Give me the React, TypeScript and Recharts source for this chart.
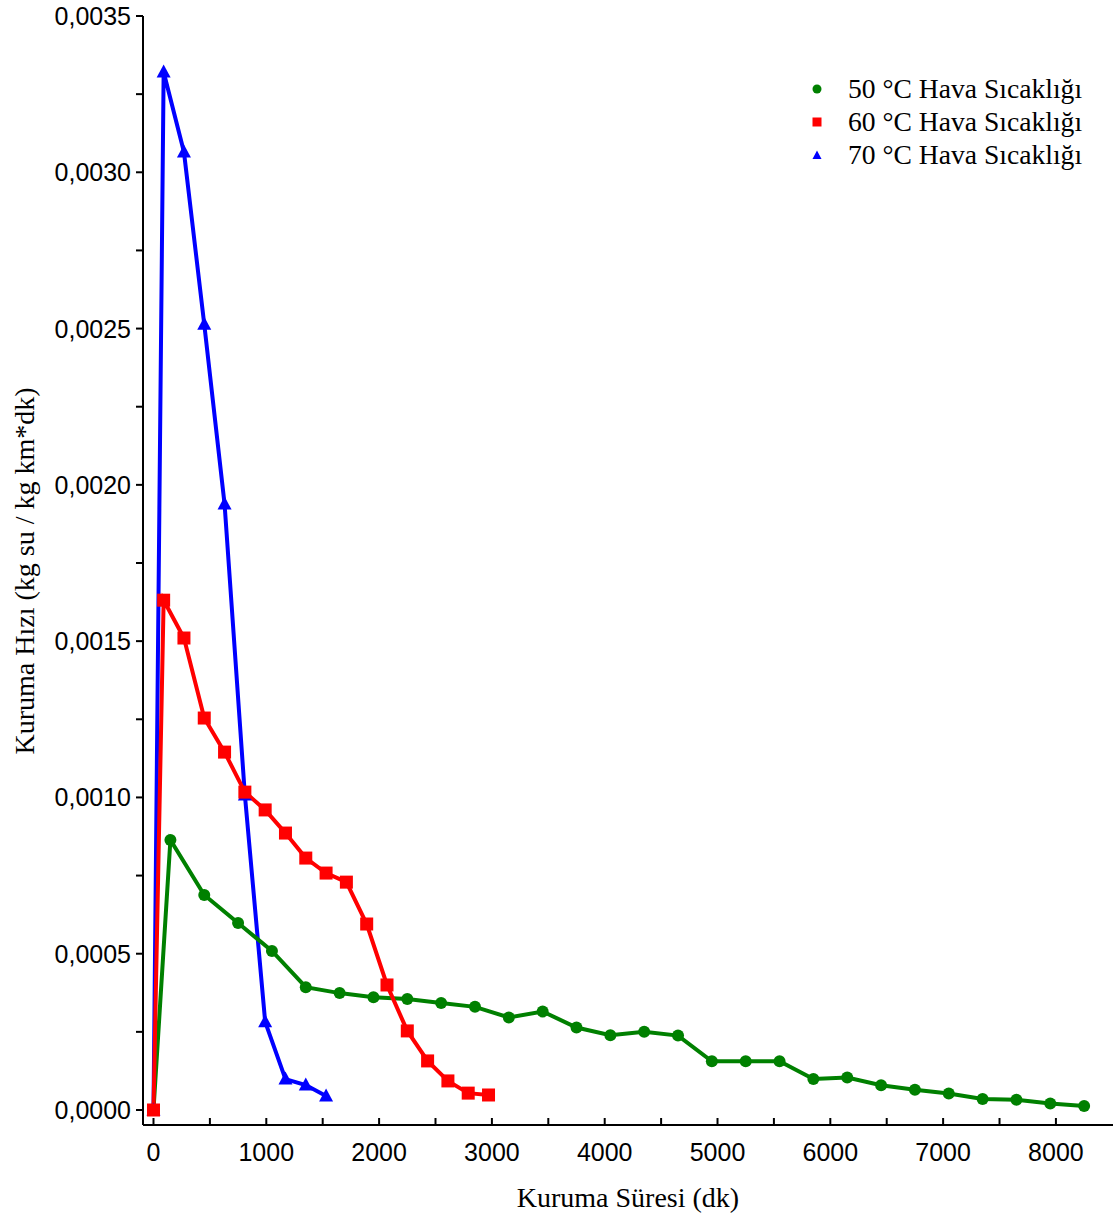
import React from "react";
import { LineChart, Line, XAxis, YAxis } from "recharts";

// drying time (dk) and drying rate (kg su / kg km*dk)
const time50 = [0, 150, 450, 750, 1050, 1350, 1650, 1950, 2250, 2550, 2850, 3150, 3450, 3750, 4050, 4350, 4650, 4950, 5250, 5550, 5850, 6150, 6450, 6750, 7050, 7350, 7650, 7950, 8250];
const rate50 = [0, 0.000864, 0.000688, 0.000598, 0.000509, 0.000393, 0.000374, 0.000361, 0.000355, 0.000342, 0.00033, 0.000296, 0.000315, 0.000264, 0.000239, 0.00025, 0.000238, 0.000156, 0.000156, 0.000156, 0.000099, 0.000104, 0.000079, 0.000065, 0.000053, 0.000035, 0.000033, 0.000021, 0.000013];

const time60 = [0, 90, 270, 450, 630, 810, 990, 1170, 1350, 1530, 1710, 1890, 2070, 2250, 2430, 2610, 2790, 2970];
const rate60 = [0, 0.001631, 0.00151, 0.001254, 0.001145, 0.001017, 0.00096, 0.000886, 0.000806, 0.000758, 0.000729, 0.000595, 0.0004, 0.000253, 0.000157, 0.000093, 0.000054, 0.000048];

const time70 = [0, 90, 270, 450, 630, 810, 990, 1170, 1350, 1530];
const rate70 = [0, 0.003321, 0.003065, 0.002514, 0.001939, 0.001008, 0.000282, 0.000099, 0.00008, 0.000045];

const xTicks = [0, 500, 1000, 1500, 2000, 2500, 3000, 3500, 4000, 4500, 5000, 5500, 6000, 6500, 7000, 7500, 8000];
const yTicks = [0, 0.00025, 0.0005, 0.00075, 0.001, 0.00125, 0.0015, 0.00175, 0.002, 0.00225, 0.0025, 0.00275, 0.003, 0.00325, 0.0035];

const zip = (xs: number[], ys: number[]) => xs.map((t, i) => ({ t, r: ys[i] }));
const data50 = zip(time50, rate50);
const data60 = zip(time60, rate60);
const data70 = zip(time70, rate70);

const GREEN = "#008000";
const RED = "#ff0000";
const BLUE = "#0000ff";
const SANS = "'Liberation Sans', Arial, sans-serif";
const SERIF = "'Liberation Serif', 'Times New Roman', serif";

// bottom axis: inward ticks every 500, labels every 1000
const XTick = ({ x, y, payload }: any) => {
  const v = payload.value;
  return (
    <g>
      <line x1={x} x2={x} y1={y} y2={y - 7} stroke="#000" strokeWidth={2} />
      {v % 1000 === 0 && (
        <text x={x} y={y + 36} textAnchor="middle" fontFamily={SANS} fontSize={25} fill="#000">
          {v}
        </text>
      )}
    </g>
  );
};

// left axis: outward ticks, comma decimals on the major ones
const YTick = ({ x, y, payload }: any) => {
  const v = payload.value;
  const major = Math.round(v * 20000) % 2 === 0;
  return (
    <g>
      <line x1={x} x2={x - 7} y1={y} y2={y} stroke="#000" strokeWidth={2} />
      {major && (
        <text x={x - 12} y={y + 9} textAnchor="end" fontFamily={SANS} fontSize={25} fill="#000">
          {v.toFixed(4).replace(".", ",")}
        </text>
      )}
    </g>
  );
};

const Circle = (p: any) => <circle key={p.index} cx={p.cx} cy={p.cy} r={6} fill={GREEN} />;
const Square = (p: any) => <rect key={p.index} x={p.cx - 6.5} y={p.cy - 6.5} width={13} height={13} fill={RED} />;
const Triangle = (p: any) => (
  <path key={p.index} d={`M${p.cx},${p.cy - 7.5}L${p.cx + 7},${p.cy + 5.5}L${p.cx - 7},${p.cy + 5.5}Z`} fill={BLUE} />
);

const legendItems = [
  { label: "50 °C Hava Sıcaklığı", color: GREEN, shape: "circle" },
  { label: "60 °C Hava Sıcaklığı", color: RED, shape: "square" },
  { label: "70 °C Hava Sıcaklığı", color: BLUE, shape: "triangle" },
];

const LegendBox = () => (
  <div style={{ position: "absolute", left: 811, top: 72 }}>
    {legendItems.map((it) => (
      <div key={it.label} style={{ display: "flex", alignItems: "center", height: 33 }}>
        <svg width={12} height={12} style={{ marginRight: 25 }}>
          {it.shape === "circle" && <circle cx={6} cy={6} r={4.5} fill={it.color} />}
          {it.shape === "square" && <rect x={1.5} y={1.5} width={9} height={9} fill={it.color} />}
          {it.shape === "triangle" && <path d="M6,1.5L10.5,10L1.5,10Z" fill={it.color} />}
        </svg>
        <span style={{ fontFamily: SERIF, fontSize: 27.6, color: "#000", lineHeight: "33px", whiteSpace: "nowrap" }}>
          {it.label}
        </span>
      </div>
    ))}
  </div>
);

export default function App() {
  return (
    <div style={{ position: "relative", width: 1120, height: 1221, background: "#fff" }}>
      <style>{"body{margin:0}"}</style>
      <LineChart width={1120} height={1221} margin={{ top: 16, right: 7, bottom: 0, left: 0 }}>
        <XAxis
          dataKey="t"
          type="number"
          domain={[-93, 8506]}
          ticks={xTicks}
          interval={0}
          height={96}
          tickSize={0}
          tickMargin={0}
          tickLine={false}
          tick={<XTick />}
          axisLine={{ stroke: "#000", strokeWidth: 2 }}
          allowDataOverflow
        />
        <XAxis xAxisId="top" orientation="top" type="number" domain={[0, 1]} height={0} tick={false} tickLine={false} axisLine={{ stroke: "#000", strokeWidth: 2 }} />
        <YAxis
          type="number"
          domain={[-0.000048, 0.0035]}
          ticks={yTicks}
          interval={0}
          width={143}
          tickSize={0}
          tickMargin={0}
          tickLine={false}
          tick={<YTick />}
          axisLine={{ stroke: "#000", strokeWidth: 2 }}
          allowDataOverflow
        />
        <YAxis yAxisId="right" orientation="right" type="number" domain={[0, 1]} width={0} tick={false} tickLine={false} axisLine={{ stroke: "#000", strokeWidth: 2 }} />
        <Line data={data70} dataKey="r" type="linear" stroke={BLUE} strokeWidth={4} dot={Triangle} isAnimationActive={false} />
        <Line data={data50} dataKey="r" type="linear" stroke={GREEN} strokeWidth={4} dot={Circle} isAnimationActive={false} />
        <Line data={data60} dataKey="r" type="linear" stroke={RED} strokeWidth={4} dot={Square} isAnimationActive={false} />
      </LineChart>
      <LegendBox />
      <div
        style={{
          position: "absolute",
          left: 628,
          top: 1198,
          transform: "translate(-50%, -50%)",
          fontFamily: SERIF,
          fontSize: 28,
          whiteSpace: "nowrap",
        }}
      >
        Kuruma Süresi (dk)
      </div>
      <div
        style={{
          position: "absolute",
          left: 25,
          top: 571,
          transform: "translate(-50%, -50%) rotate(-90deg)",
          fontFamily: SERIF,
          fontSize: 28,
          whiteSpace: "nowrap",
        }}
      >
        Kuruma Hızı (kg su / kg km*dk)
      </div>
    </div>
  );
}
